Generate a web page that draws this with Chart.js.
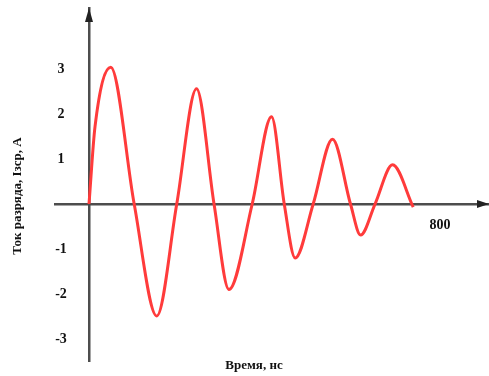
<!DOCTYPE html>
<html>
<head>
<meta charset="utf-8">
<script src="https://cdn.jsdelivr.net/npm/chart.js@4.4.1/dist/chart.umd.min.js"></script>
<style>
  html, body { margin: 0; padding: 0; background: #fff; }
  #wrap { width: 489px; height: 376px; }
</style>
</head>
<body>
<div id="wrap"><canvas id="dischargeChart"></canvas></div>
<script>
// время, нс
const timeNs = [0, 13.7, 49.5, 103, 154.4, 200, 245, 285, 319,
    372, 416, 445, 470, 511, 555, 596, 619, 652, 692, 739];
// ток разряда, А
const currentA = [0, 1.72, 3.04, 0, -2.49, 0, 2.56, 0, -1.90,
    0, 1.94, 0, -1.20, 0, 1.44, 0, -0.69, 0, 0.87, -0.07];

const xTicks = [800];
const yTicks = [3, 2, 1, -1, -2, -3];

const xTitle = 'Время, нс';
const yTitle = 'Ток разряда, Iзср, А';

const axisColor = '#4d4d4d';
const lineColor = '#ff3b3b';
const labelFont = 'bold 14px "Liberation Serif"';

// стрелки осей, подписи делений и названия осей
const axesDecor = {
    id: 'axesDecor',
    afterDraw(chart) {
        const ctx = chart.ctx;
        const area = chart.chartArea;
        const sx = chart.scales.x;
        const sy = chart.scales.y;
        const x0 = sx.getPixelForValue(0);
        const y0 = sy.getPixelForValue(0);
        ctx.save();
        ctx.fillStyle = '#222';
        // вверх
        ctx.beginPath();
        ctx.moveTo(x0, area.top);
        ctx.lineTo(x0 - 4, area.top + 14);
        ctx.lineTo(x0 + 4, area.top + 14);
        ctx.closePath();
        ctx.fill();
        // вправо
        ctx.beginPath();
        ctx.moveTo(area.right, y0);
        ctx.lineTo(area.right - 12, y0 - 4);
        ctx.lineTo(area.right - 12, y0 + 4);
        ctx.closePath();
        ctx.fill();

        ctx.fillStyle = '#111';
        ctx.font = labelFont;
        ctx.textAlign = 'center';
        ctx.textBaseline = 'middle';
        sy.ticks.forEach(t => {
            ctx.fillText(String(t.value), x0 - 28, sy.getPixelForValue(t.value));
        });
        sx.ticks.forEach(t => {
            ctx.fillText(String(t.value), sx.getPixelForValue(t.value), y0 + 21);
        });

        ctx.font = 'bold 13px "Liberation Serif"';
        ctx.fillText(xTitle, 254, 366);
        ctx.translate(18, 196);
        ctx.rotate(-Math.PI / 2);
        ctx.fillText(yTitle, 0, 0);
        ctx.restore();
    }
};

const ctx = document.getElementById('dischargeChart').getContext('2d');

new Chart(ctx, {
    type: 'line',
    data: {
        datasets: [{
            data: timeNs.map((t, i) => ({ x: t, y: currentA[i] })),
            borderColor: lineColor,
            borderWidth: 3,
            pointRadius: 0,
            fill: false,
            cubicInterpolationMode: 'monotone'
        }]
    },
    options: {
        responsive: true,
        maintainAspectRatio: false,
        animation: false,
        layout: {
            padding: { left: 55, right: 0, top: 8, bottom: 15 }
        },
        scales: {
            x: {
                type: 'linear',
                min: -77.5,
                max: 911.7,
                position: { y: 0 },
                grid: { display: false, drawTicks: false },
                border: { display: true, color: axisColor, width: 2.5 },
                afterBuildTicks: scale => {
                    scale.ticks = xTicks.map(v => ({ value: v }));
                },
                ticks: { display: false }
            },
            y: {
                type: 'linear',
                min: -3.489,
                max: 4.356,
                position: { x: 0 },
                grid: { display: false, drawTicks: false },
                border: { display: true, color: axisColor, width: 2.5 },
                afterBuildTicks: scale => {
                    scale.ticks = yTicks.map(v => ({ value: v }));
                },
                ticks: { display: false }
            }
        },
        plugins: {
            legend: { display: false },
            tooltip: { enabled: false }
        }
    },
    plugins: [axesDecor]
});
</script>
</body>
</html>
